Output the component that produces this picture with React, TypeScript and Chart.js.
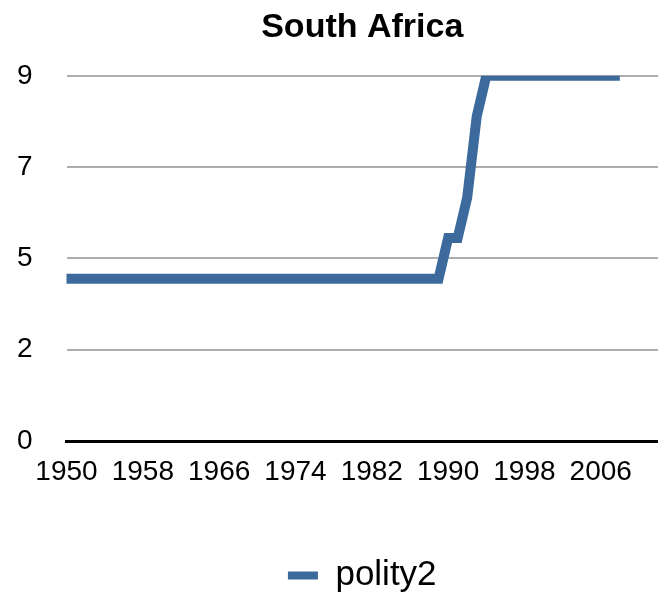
import { useEffect, useRef } from 'react';
import { Chart, registerables } from 'chart.js';

Chart.register(...registerables);

const years: string[] = [
  '1950', '1951', '1952', '1953', '1954', '1955', '1956', '1957', '1958', '1959',
  '1960', '1961', '1962', '1963', '1964', '1965', '1966', '1967', '1968', '1969',
  '1970', '1971', '1972', '1973', '1974', '1975', '1976', '1977', '1978', '1979',
  '1980', '1981', '1982', '1983', '1984', '1985', '1986', '1987', '1988', '1989',
  '1990', '1991', '1992', '1993', '1994', '1995', '1996', '1997', '1998', '1999',
  '2000', '2001', '2002', '2003', '2004', '2005', '2006', '2007', '2008', '2009',
  '2010', '2011', '2012',
];

const polity2: number[] = [
  4, 4, 4, 4, 4, 4, 4, 4, 4, 4,
  4, 4, 4, 4, 4, 4, 4, 4, 4, 4,
  4, 4, 4, 4, 4, 4, 4, 4, 4, 4,
  4, 4, 4, 4, 4, 4, 4, 4, 4, 4,
  5, 5, 6, 8, 9, 9, 9, 9, 9, 9,
  9, 9, 9, 9, 9, 9, 9, 9, 9,
];

const yTickValues: number[] = [0, 2.25, 4.5, 6.75, 9];

const FAMILY = '"Liberation Sans", Arial, Helvetica, sans-serif';
const LINE_COLOR = '#3c6a9d';

export default function App() {
  const ref = useRef<HTMLCanvasElement>(null);

  useEffect(() => {
    const chart = new Chart(ref.current as HTMLCanvasElement, {
      type: 'line',
      data: {
        labels: years,
        datasets: [
          {
            label: 'polity2',
            data: polity2,
            borderColor: LINE_COLOR,
            backgroundColor: LINE_COLOR,
            borderWidth: 10,
            pointRadius: 0,
            pointHoverRadius: 0,
            tension: 0,
            borderJoinStyle: 'miter',
            borderCapStyle: 'butt',
            fill: false,
          },
        ],
      },
      options: {
        animation: false,
        responsive: false,
        maintainAspectRatio: false,
        layout: { padding: { left: 0, right: 0, top: 0, bottom: -10 } },
        plugins: {
          title: {
            display: true,
            text: 'South Africa',
            fullSize: false,
            color: '#000',
            font: { family: FAMILY, size: 34, weight: 'bold' },
            padding: { top: 7, bottom: 28 },
          },
          legend: {
            position: 'bottom',
            fullSize: false,
            labels: {
              color: '#000',
              font: { family: FAMILY, size: 35 },
              boxWidth: 30,
              boxHeight: 8,
              padding: 6,
              generateLabels: (c: any) =>
                (Chart.defaults.plugins.legend.labels as any)
                  .generateLabels(c)
                  .map((l: any) => ({ ...l, lineWidth: 0 })),
            },
          },
          tooltip: { enabled: false },
        },
        scales: {
          x: {
            grid: { display: false, drawTicks: false },
            border: { display: true, color: '#000', width: 3 },
            ticks: {
              autoSkip: false,
              maxRotation: 0,
              minRotation: 0,
              padding: 14,
              color: '#000',
              font: { family: FAMILY, size: 28 },
              callback: (_v: any, i: number) => (i % 8 === 0 ? years[i] : null),
            },
            afterFit: (s: any) => {
              s.height = 111;
            },
          },
          y: {
            min: 0,
            max: 9,
            afterBuildTicks: (s: any) => {
              s.ticks = yTickValues.map((v) => ({ value: v }));
            },
            grid: {
              color: (c: any) => (c.tick && c.tick.value === 0 ? 'rgba(0,0,0,0)' : '#adadad'),
              lineWidth: 2,
              drawTicks: false,
            },
            border: { display: false },
            ticks: {
              padding: 34,
              color: '#000',
              font: { family: FAMILY, size: 28 },
              callback: (v: any) => String(Math.round(Number(v))),
            },
            afterFit: (s: any) => {
              s.width = 66.5;
            },
          },
        },
      },
    } as any);
    return () => chart.destroy();
  }, []);

  return (
    <div style={{ position: 'absolute', left: 0, top: 0, width: 658, height: 593, background: '#fff' }}>
      <canvas ref={ref} width={658} height={593} style={{ display: 'block' }} />
    </div>
  );
}
